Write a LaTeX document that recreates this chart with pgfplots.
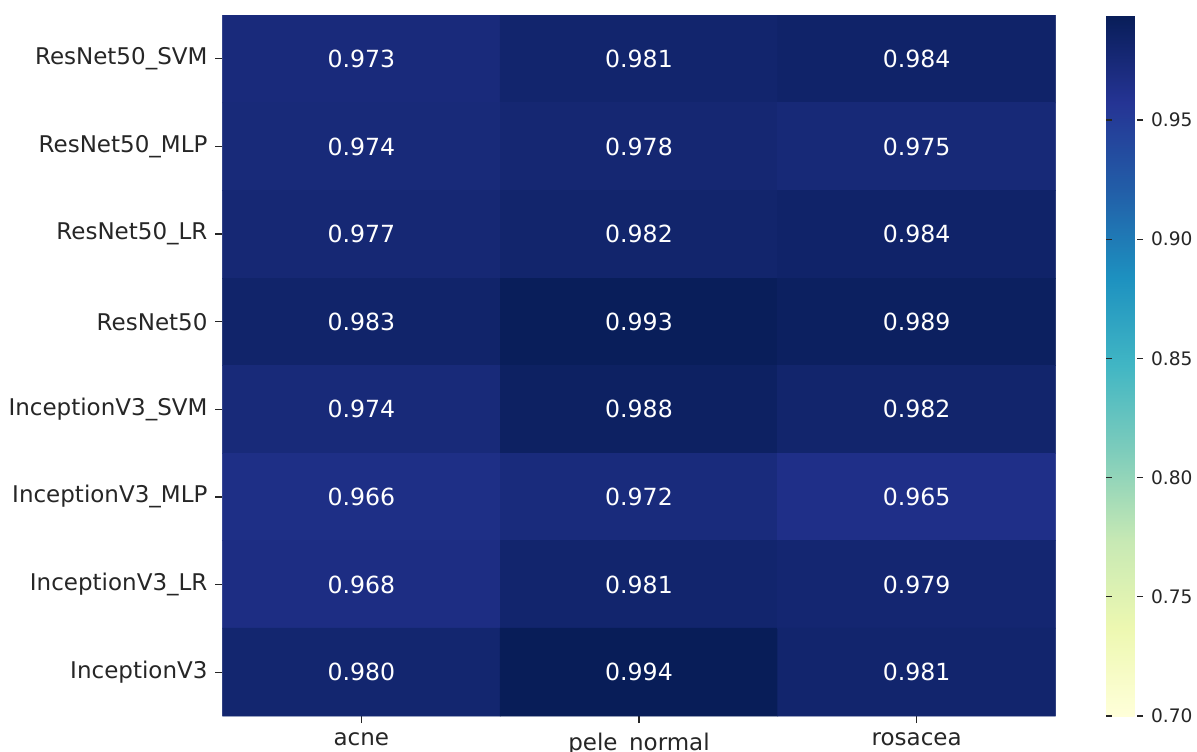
\documentclass[border=0pt]{standalone}
\usepackage{fontspec}
\setmainfont{DejaVu Sans}
\usepackage{pgfplots}
\pgfplotsset{compat=1.18}
\usepackage{pgfplotstable}

% F1 scores per model (rows, top to bottom) and class (columns)
\pgfplotstableread{
x y z
0 0 0.973
1 0 0.981
2 0 0.984
0 1 0.974
1 1 0.978
2 1 0.975
0 2 0.977
1 2 0.982
2 2 0.984
0 3 0.983
1 3 0.993
2 3 0.989
0 4 0.974
1 4 0.988
2 4 0.982
0 5 0.966
1 5 0.972
2 5 0.965
0 6 0.968
1 6 0.981
2 6 0.979
0 7 0.980
1 7 0.994
2 7 0.981
}\scores

\pgfplotsset{
  colormap={ylgnbu}{
    rgb255=(255,255,217) rgb255=(237,248,177) rgb255=(199,233,180)
    rgb255=(127,205,187) rgb255=(65,182,196) rgb255=(29,145,192)
    rgb255=(34,94,168) rgb255=(37,52,148) rgb255=(8,29,88)},
  /pgf/number format/assume math mode=true,
}

\begin{document}
\begin{tikzpicture}
\begin{axis}[
  at={(0pt,0pt)}, anchor=south west,
  scale only axis,
  width=416.5pt, height=350.5pt,
  xmin=-0.5, xmax=2.5, ymin=-0.5, ymax=7.5,
  y dir=reverse,
  enlargelimits=false,
  axis line style={draw=none},
  tick pos=left,
  tick align=outside,
  major tick length=3.5pt,
  tick style={black!85, line width=0.6pt},
  xtick={0,1,2},
  xticklabels={acne, pele\_normal, rosacea},
  ytick={0,...,7},
  yticklabels={ResNet50\_SVM, ResNet50\_MLP, ResNet50\_LR, ResNet50,
    InceptionV3\_SVM, InceptionV3\_MLP, InceptionV3\_LR, InceptionV3},
  ticklabel style={font=\fontsize{11.5}{13}\selectfont, text=black!85},
  yticklabel style={xshift=-0.5pt},
  xticklabel style={yshift=-1.5pt},
  colormap name=ylgnbu,
  point meta min=0.70, point meta max=0.994,
  colorbar,
  colorbar style={
    at={(parent axis.north east)}, anchor=north west,
    xshift=16.75pt,
    scale only axis,
    width=18.5pt, height=350.5pt,
    axis line style={draw=none},
    ytick={0.70,0.75,0.80,0.85,0.90,0.95},
    yticklabel={\pgfmathprintnumber[fixed,precision=2,fixed zerofill]{\tick}},
    yticklabel style={font=\fontsize{9.3}{11}\selectfont, text=black!85, xshift=0.5pt},
    major tick length=3pt,
    tick style={black!85, line width=0.6pt},
  },
]
\addplot[
  matrix plot*,
  mesh/cols=3,
  point meta=explicit,
  draw=none,
  nodes near coords={\pgfmathprintnumber[fixed,precision=3,fixed zerofill]{\pgfplotspointmeta}},
  nodes near coords style={anchor=center, text=white, font=\fontsize{11.8}{13}\selectfont},
] table[x=x, y=y, meta=z] {\scores};
\end{axis}
\pgfresetboundingbox
\useasboundingbox (-111.25pt,-17.5pt) rectangle (487.25pt,358pt);
\end{tikzpicture}
\end{document}
